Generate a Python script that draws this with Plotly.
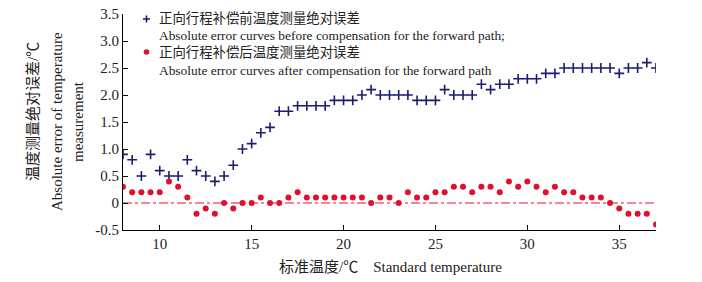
import plotly.graph_objects as go

temps = [8 + 0.5 * i for i in range(59)]
before = [0.9, 0.8, 0.5, 0.9, 0.6, 0.5, 0.5, 0.8, 0.6, 0.5, 0.4, 0.5, 0.7, 1.0, 1.1, 1.3, 1.4,
          1.7, 1.7, 1.8, 1.8, 1.8, 1.8, 1.9, 1.9, 1.9, 2.0, 2.1, 2.0, 2.0, 2.0, 2.0, 1.9, 1.9,
          1.9, 2.1, 2.0, 2.0, 2.0, 2.2, 2.1, 2.2, 2.2, 2.3, 2.3, 2.3, 2.4, 2.4, 2.5, 2.5, 2.5,
          2.5, 2.5, 2.5, 2.4, 2.5, 2.5, 2.6, 2.5]
after = [0.3, 0.2, 0.2, 0.2, 0.2, 0.4, 0.3, 0.1, -0.2, -0.1, -0.2, 0, -0.1, 0, 0, 0.1, 0,
         0, 0.1, 0.2, 0.1, 0.1, 0.1, 0.1, 0.1, 0.1, 0.1, 0, 0.1, 0.1, 0, 0.2, 0.1, 0.1,
         0.2, 0.2, 0.3, 0.3, 0.2, 0.3, 0.3, 0.2, 0.4, 0.3, 0.4, 0.3, 0.2, 0.3, 0.2, 0.2, 0.1,
         0.1, 0.1, 0, -0.1, -0.2, -0.2, -0.2, -0.4]

x_ticks = [10, 15, 20, 25, 30, 35]
y_ticks = [-0.5, 0, 0.5, 1.0, 1.5, 2.0, 2.5, 3.0, 3.5]
y_ticktext = ["-0.5", "0", "0.5", "1.0", "1.5", "2.0", "2.5", "3.0", "3.5"]

legend_lines = [
    "正向行程补偿前温度测量绝对误差",
    "Absolute error curves before compensation for the forward path;",
    "正向行程补偿后温度测量绝对误差",
    "Absolute error curves after compensation for the forward path",
]
y_title_lines = ["温度测量绝对误差/℃", "Absolute error of temperature", "measurement"]
x_title = "标准温度/℃\u00a0\u00a0\u00a0\u00a0Standard temperature"

FONT = "Liberation Serif, Times New Roman, Noto Sans CJK SC, serif"
BLUE = "#1c1c72"
RED = "#e0102f"

# plot area in reference pixels
L, R, T, B = 123, 656, 14, 230
W, H = 702, 282
PW, PH = R - L, B - T


def px_x(p):
    return (p - L) / PW


def px_y(p):
    return (B - p) / PH


fig = go.Figure()
fig.add_trace(go.Scatter(
    x=[8, 37], y=[0, 0], mode="lines", showlegend=False, hoverinfo="skip",
    line=dict(color=RED, width=1, dash="dashdot")))
fig.add_trace(go.Scatter(
    x=temps, y=before, mode="markers", name=legend_lines[1], showlegend=False,
    marker=dict(symbol="cross-thin", size=7, line=dict(color=BLUE, width=1.6), color=BLUE)))
fig.add_trace(go.Scatter(
    x=temps, y=after, mode="markers", name=legend_lines[3], showlegend=False,
    marker=dict(symbol="circle", size=6, color=RED)))

annotations = []
for txt, ypx in zip(legend_lines, [18, 35, 52, 70]):
    annotations.append(dict(text=txt, xref="paper", yref="paper", x=px_x(157), y=px_y(ypx),
                            xanchor="left", yanchor="middle", showarrow=False,
                            font=dict(size=13.4, family=FONT, color="#222")))
for txt, xpx, ypx in zip(y_title_lines, [33, 57, 78], [112, 122, 122]):
    annotations.append(dict(text=txt, xref="paper", yref="paper", x=px_x(xpx), y=px_y(ypx),
                            xanchor="center", yanchor="middle", textangle=-90, showarrow=False,
                            font=dict(size=15, family=FONT, color="#222")))
annotations.append(dict(text=x_title, xref="paper", yref="paper", x=px_x(390), y=px_y(267),
                        xanchor="center", yanchor="middle", showarrow=False,
                        font=dict(size=15, family=FONT, color="#222")))

shapes = []
cx, cy = px_x(146.5), px_y(19)
dx, dy = 3.5 / PW, 3.5 / PH
shapes.append(dict(type="line", xref="paper", yref="paper", x0=cx - dx, x1=cx + dx, y0=cy, y1=cy,
                   line=dict(color=BLUE, width=1.6)))
shapes.append(dict(type="line", xref="paper", yref="paper", x0=cx, x1=cx, y0=cy - dy, y1=cy + dy,
                   line=dict(color=BLUE, width=1.6)))
cx2, cy2 = px_x(146.5), px_y(52)
r2x, r2y = 2.8 / PW, 2.8 / PH
shapes.append(dict(type="circle", xref="paper", yref="paper", x0=cx2 - r2x, x1=cx2 + r2x,
                   y0=cy2 - r2y, y1=cy2 + r2y, fillcolor=RED, line=dict(width=0)))

fig.update_layout(
    width=W, height=H,
    margin=dict(l=L, r=W - R, t=T, b=H - B, autoexpand=False),
    paper_bgcolor="white", plot_bgcolor="white",
    font=dict(family=FONT, size=15, color="#222"),
    showlegend=False,
    annotations=annotations,
    shapes=shapes,
    xaxis=dict(range=[8, 37], tickvals=x_ticks, showgrid=False, zeroline=False,
               showline=True, linecolor="black", linewidth=1, automargin=False,
               ticks="inside", ticklen=5, tickcolor="black", ticklabeloverflow="allow"),
    yaxis=dict(range=[-0.5, 3.5], tickvals=y_ticks, ticktext=y_ticktext, showgrid=False,
               zeroline=False, showline=True, linecolor="black", linewidth=1, automargin=False,
               ticks="inside", ticklen=5, tickcolor="black", ticklabeloverflow="allow"),
)

fig.write_html("out.html", config={"displayModeBar": False},
               post_script="document.body.style.margin='0';")
